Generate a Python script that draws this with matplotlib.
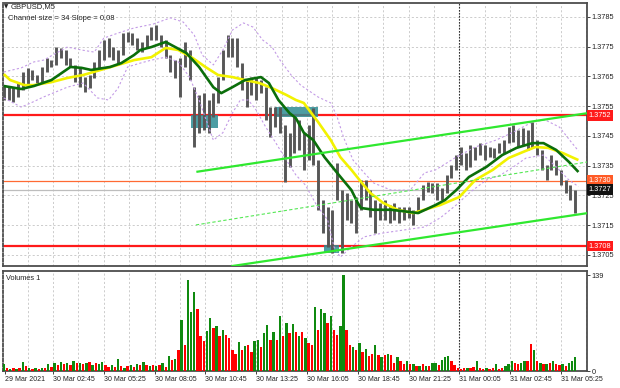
import matplotlib
matplotlib.use('Agg')
import matplotlib.pyplot as plt
from matplotlib.patches import Rectangle
from matplotlib.transforms import blended_transform_factory

# ---------------- data ----------------
# GBPUSD M5, one reading every 3 bars (bar 0 = first visible bar)
price_high = [1.37621, 1.37618, 1.37614, 1.37628, 1.37665, 1.37679, 1.37672, 1.37655, 1.37682, 1.37712,
              1.37705, 1.37749, 1.37746, 1.37739, 1.37712, 1.37689, 1.37682, 1.37648, 1.37655, 1.37699,
              1.37739, 1.37773, 1.37779, 1.37749, 1.37739, 1.37796, 1.37799, 1.37796, 1.37779, 1.37766,
              1.37789, 1.37816, 1.37823, 1.37789, 1.37773, 1.37722, 1.37705, 1.37712, 1.37766, 1.37739,
              1.37614, 1.37588, 1.37594, 1.37571, 1.37594, 1.37648, 1.37739, 1.37789, 1.37779, 1.37779,
              1.37695, 1.37638, 1.37648, 1.37648, 1.37638, 1.37614, 1.37547, 1.37547, 1.37547, 1.37487,
              1.37461, 1.37514, 1.37504, 1.37461, 1.37487, 1.37544, 1.37369, 1.37235, 1.37211, 1.37202,
              1.37359, 1.37268, 1.37258, 1.37235, 1.37245, 1.37302, 1.37302, 1.37268, 1.37235, 1.37225,
              1.37235, 1.37218, 1.37225, 1.37211, 1.37211, 1.37211, 1.37202, 1.37245, 1.37285, 1.37296,
              1.37292, 1.37292, 1.37275, 1.37319, 1.37353, 1.37386, 1.37413, 1.37393, 1.37419, 1.37413,
              1.37426, 1.37419, 1.37413, 1.37410, 1.37426, 1.37436, 1.37480, 1.37487, 1.37470, 1.37477,
              1.37470, 1.37497, 1.37436, 1.37403, 1.37353, 1.37386, 1.37369, 1.37336, 1.37302, 1.37285,
              1.37268]
price_low = [1.37571, 1.37571, 1.37564, 1.37581, 1.37604, 1.37621, 1.37638, 1.37628, 1.37631, 1.37665,
             1.37682, 1.37689, 1.37712, 1.37689, 1.37682, 1.37631, 1.37614, 1.37598, 1.37611, 1.37645,
             1.37679, 1.37705, 1.37715, 1.37705, 1.37689, 1.37722, 1.37766, 1.37756, 1.37739, 1.37732,
             1.37746, 1.37773, 1.37773, 1.37749, 1.37712, 1.37665, 1.37645, 1.37581, 1.37682, 1.37638,
             1.37413, 1.37461, 1.37470, 1.37461, 1.37514, 1.37561, 1.37638, 1.37715, 1.37715, 1.37682,
             1.37604, 1.37547, 1.37588, 1.37571, 1.37594, 1.37504, 1.37446, 1.37480, 1.37461, 1.37296,
             1.37346, 1.37393, 1.37403, 1.37336, 1.37369, 1.37353, 1.37202, 1.37124, 1.37077, 1.37057,
             1.37235, 1.37057, 1.37168, 1.37158, 1.37124, 1.37202, 1.37235, 1.37178, 1.37124, 1.37168,
             1.37168, 1.37158, 1.37168, 1.37158, 1.37168, 1.37175, 1.37151, 1.37191, 1.37235, 1.37262,
             1.37258, 1.37235, 1.37235, 1.37258, 1.37309, 1.37336, 1.37353, 1.37336, 1.37346, 1.37369,
             1.37386, 1.37369, 1.37379, 1.37376, 1.37393, 1.37393, 1.37426, 1.37430, 1.37413, 1.37419,
             1.37403, 1.37410, 1.37386, 1.37336, 1.37302, 1.37336, 1.37319, 1.37285, 1.37258, 1.37235,
             1.37191]
price_bar = list(range(0, 3 * len(price_high), 3))

green_bar = [0, 11, 19, 30, 42, 49, 55, 67, 74, 82, 86, 93, 102, 115, 123, 132, 137, 144, 152, 162,
             167, 173, 180, 184, 189, 195, 202, 210, 219, 223, 225, 233, 244, 255, 261, 272, 278, 285,
             293, 304, 314, 323, 333, 340, 348, 356, 362]
green_ma = [1.37618, 1.37608, 1.37618, 1.37638, 1.37682, 1.37679, 1.37672, 1.37682, 1.37695, 1.37722,
            1.37739, 1.37749, 1.37766, 1.37729, 1.37682, 1.37614, 1.37594, 1.37614, 1.37638, 1.37648,
            1.37628, 1.37571, 1.37527, 1.37510, 1.37461, 1.37436, 1.37379, 1.37326, 1.37268, 1.37225,
            1.37208, 1.37202, 1.37202, 1.37195, 1.37191, 1.37218, 1.37235, 1.37268, 1.37312, 1.37346,
            1.37386, 1.37410, 1.37426, 1.37426, 1.37403, 1.37363, 1.37329]

yellow_bar = [0, 4, 13, 19, 30, 40, 50, 61, 72, 82, 93, 102, 110, 119, 127, 135, 144, 152, 161, 169,
              178, 184, 189, 198, 206, 212, 219, 225, 231, 239, 248, 258, 265, 275, 287, 297, 308, 318,
              327, 335, 343, 352, 362]
yellow_ma = [1.37658, 1.37638, 1.37621, 1.37621, 1.37631, 1.37645, 1.37655, 1.37672, 1.37689, 1.37705,
             1.37715, 1.37746, 1.37739, 1.37712, 1.37682, 1.37655, 1.37648, 1.37638, 1.37628, 1.37611,
             1.37588, 1.37571, 1.37561, 1.37497, 1.37436, 1.37379, 1.37336, 1.37296, 1.37258, 1.37225,
             1.37202, 1.37191, 1.37202, 1.37218, 1.37245, 1.37302, 1.37336, 1.37376, 1.37396, 1.37413,
             1.37410, 1.37393, 1.37369]

upper_bar = [0, 11, 19, 25, 40, 49, 57, 63, 72, 82, 94, 105, 113, 120, 125, 132, 138, 144, 151, 157,
             163, 169, 174, 181, 187, 198, 206, 210, 214, 220, 227, 233, 244, 256, 265, 272, 285, 297,
             310, 321, 333, 341, 350, 358, 362]
upper_band = [1.37665, 1.37679, 1.37699, 1.37705, 1.37749, 1.37739, 1.37732, 1.37779, 1.37796, 1.37813,
              1.37826, 1.37847, 1.37833, 1.37789, 1.37722, 1.37689, 1.37739, 1.37806, 1.37830, 1.37816,
              1.37773, 1.37749, 1.37705, 1.37655, 1.37621, 1.37581, 1.37561, 1.37514, 1.37446, 1.37369,
              1.37326, 1.37292, 1.37268, 1.37268, 1.37326, 1.37336, 1.37379, 1.37413, 1.37436, 1.37463,
              1.37497, 1.37504, 1.37480, 1.37426, 1.37400]

lower_bar = [0, 11, 17, 25, 40, 50, 59, 66, 72, 78, 86, 93, 102, 110, 117, 123, 132, 138, 144, 149,
             154, 159, 165, 171, 178, 184, 190, 197, 204, 208, 212, 219, 227, 239, 252, 265, 275, 285,
             294, 304, 313, 321, 329, 340, 348, 356, 362]
lower_band = [1.37578, 1.37547, 1.37561, 1.37581, 1.37614, 1.37628, 1.37578, 1.37571, 1.37611, 1.37682,
              1.37695, 1.37705, 1.37715, 1.37699, 1.37648, 1.37571, 1.37436, 1.37461, 1.37527, 1.37571,
              1.37571, 1.37537, 1.37480, 1.37430, 1.37369, 1.37319, 1.37285, 1.37218, 1.37168, 1.37077,
              1.37043, 1.37077, 1.37111, 1.37124, 1.37134, 1.37144, 1.37175, 1.37218, 1.37262, 1.37302,
              1.37319, 1.37346, 1.37376, 1.37386, 1.37346, 1.37302, 1.37280]

# trend channel (start / end)
chan_upper_bar, chan_upper = [122, 368], [1.37330, 1.37527]
chan_lower_bar, chan_lower = [144, 368], [1.37013, 1.37191]
chan_mid_bar, chan_mid = [121, 368], [1.37151, 1.37363]

# horizontal levels
levels = [1.3752, 1.3708, 1.3730, 1.3727]
level_kind = ['red', 'red', 'orange', 'gray']

# shaded zones
zone_start = [118, 171, 202]
zone_end = [135, 198, 211]
zone_low = [1.37477, 1.37514, 1.37057]
zone_high = [1.37520, 1.37547, 1.37084]

# volumes, one reading every 2 bars, 'g' = up bar, 'r' = down bar
vol = [10, 4, 3, 4, 3, 5, 13, 7, 4, 3, 5, 3, 4, 5, 10, 6, 12, 9, 13, 10, 12, 9, 14, 11, 12,
       10, 12, 13, 9, 12, 10, 13, 8, 6, 9, 6, 17, 7, 5, 7, 8, 6, 10, 9, 13, 8, 7, 9, 7, 8, 12, 6, 22, 16, 18,
       30, 74, 38, 132, 85, 114, 90,
       50, 44, 58, 77, 62, 65, 50, 60, 52, 48, 30, 24, 42, 30, 36, 37, 28, 43, 45, 35,
       55, 67, 45, 57, 45, 80, 50, 70, 55, 68, 57, 50, 57, 48, 40, 38, 92, 60, 90, 84,
       70, 80, 60, 52, 65, 139, 60, 38, 35, 30, 40, 28, 32, 21, 24, 38, 23, 20, 23, 25,
       23, 12, 20, 14,
       10, 15, 10, 10, 7, 7, 10, 7, 7, 12, 12, 8, 16, 20, 22, 15, 8, 4, 3, 5,
       4, 5, 6, 15, 4, 3, 5, 3, 4, 10, 3, 4, 7, 10, 15, 12, 10, 12, 15, 15,
       39, 30, 15, 12, 10, 10, 12, 15, 10, 8, 10, 7, 12, 15, 20]
vol_dir = ("grgrgrgrgrgrgrgrgrgrgrgrg"
           "rgrgrggrrgrgrgrgrgrgrgrgrgrgrgrgrgggr"
           "rrggrgrgrr" "rrgrgrrggr" "ggrgrgrgrg" "rgrgrrgrgg" "rgrrggrrgr" "grgrrgrgrg" "rrgr"
           "rgrgrgrgrg" "grgggrrrrr" "grrgrrgrrg" "rrgggrrggr" "rgrgrgrgrr" "grggg")
vol_bar = list(range(0, 2 * len(vol), 2))

# axis labels
price_ticks = [1.3705, 1.3715, 1.3725, 1.3735, 1.3745, 1.3755, 1.3765, 1.3775, 1.3785]
time_tick_bar = [1, 31, 63, 95, 127, 159, 191, 223, 255, 287, 319, 351]
time_tick_lbl = ['29 Mar 2021', '30 Mar 02:45', '30 Mar 05:25', '30 Mar 08:05', '30 Mar 10:45',
                 '30 Mar 13:25', '30 Mar 16:05', '30 Mar 18:45', '30 Mar 21:25', '31 Mar 00:05',
                 '31 Mar 02:45', '31 Mar 05:25']
grid_bar = list(range(15, 368, 16))
day_sep_bar = 286.5
vol_ticks = [0, 139]

# ---------------- drawing ----------------
FONT = ['Liberation Sans', 'DejaVu Sans']
plt.rcParams['font.family'] = FONT
W, H = 620, 388
fig = plt.figure(figsize=(W / 100, H / 100), dpi=100)
fig.patch.set_facecolor('white')


def px_axes(l, t, r, b):
    return fig.add_axes([l / W, 1 - b / H, (r - l) / W, (b - t) / H])


ax = px_axes(3, 3, 587, 266)
axv = px_axes(3, 271, 587, 371)
XL = (-0.5, 367.4)
grid_kw = dict(color='#c4c4c4', lw=0.6, ls=(0, (2.5, 2.5)), zorder=0)

for a in (ax, axv):
    a.set_xlim(*XL)
    a.set_facecolor('white')
    for s in a.spines.values():
        s.set_color('#4d4d4d')
        s.set_linewidth(1.3)
    a.spines['left'].set_linestyle((0, (1.5, 1.2)))
    for b in grid_bar:
        a.axvline(b, **grid_kw)
    a.axvline(day_sep_bar, color='#111111', lw=0.8, ls=(0, (1.2, 1.5)), zorder=1)

ax.set_ylim(1.37013, 1.37897)
for p in price_ticks:
    ax.axhline(p, **grid_kw)

# levels
lev_style = {'red': dict(color='#ff1a1a', lw=1.6), 'orange': dict(color='#ff6a33', lw=0.9),
             'gray': dict(color='#bdbdbd', lw=0.9)}
for lv, k in zip(levels, level_kind):
    ax.axhline(lv, zorder=2, **lev_style[k])

# zones
for s, e, lo, hi in zip(zone_start, zone_end, zone_low, zone_high):
    ax.add_patch(Rectangle((s, lo), e - s, hi - lo, facecolor='#2e8c93', alpha=0.85,
                           edgecolor='none', zorder=3))

# price bars
ax.vlines(price_bar, price_low, price_high, colors='#575757', lw=2.1, zorder=4)

# bands and MAs
band_kw = dict(color='#c39be6', lw=0.8, ls=(0, (2, 2)), zorder=5)
ax.plot(upper_bar, upper_band, **band_kw)
ax.plot(lower_bar, lower_band, **band_kw)
ax.plot(yellow_bar, yellow_ma, color='#f2f200', lw=1.9, zorder=6, solid_capstyle='butt')
ax.plot(green_bar, green_ma, color='#0b6e0b', lw=1.9, zorder=7, solid_capstyle='butt')

# channel
ax.plot(chan_upper_bar, chan_upper, color='#2fe82f', lw=1.6, zorder=8)
ax.plot(chan_lower_bar, chan_lower, color='#2fe82f', lw=1.6, zorder=8)
ax.plot(chan_mid_bar, chan_mid, color='#55e855', lw=0.8, ls=(0, (3, 2)), zorder=8)

ax.set_xticks([])
ax.yaxis.tick_right()
ax.set_yticks(price_ticks)
ax.set_yticklabels([f'{p:.4f}' for p in price_ticks])
ax.tick_params(axis='y', length=2, width=0.6, pad=1.5, labelsize=5.3, colors='#222222')

# coloured price boxes
tr = blended_transform_factory(ax.transAxes, ax.transData)
box_col = {'red': '#ff1a1a', 'orange': '#ff5a26', 'gray': '#111111'}
for lv, k in zip(levels, level_kind):
    ax.text(1.003, lv, f'{lv:.4f}', transform=tr, ha='left', va='center', fontsize=5.3,
            color='white', clip_on=False, zorder=20,
            bbox=dict(boxstyle='square,pad=0.25', facecolor=box_col[k], edgecolor='none'))

# volumes
vcol = ['#0f8a0f' if d == 'g' else '#ff0000' for d in vol_dir]
axv.bar(vol_bar, vol, width=1.5, color=vcol, linewidth=0, zorder=3)
axv.set_ylim(0, 144.8)
axv.yaxis.tick_right()
axv.set_yticks(vol_ticks)
axv.set_yticklabels([str(v) for v in vol_ticks])
axv.tick_params(axis='y', length=2, width=0.6, pad=1.5, labelsize=5.3, colors='#222222')
axv.set_xticks(time_tick_bar)
axv.set_xticklabels(time_tick_lbl, ha='left')
axv.tick_params(axis='x', length=2, width=0.6, pad=1.5, labelsize=5.0, colors='#222222')

# texts
fig.text(4 / W, 1 - 7 / H, '\u25BC', fontsize=4, va='center', ha='left', color='#222222',
         family=['DejaVu Sans'])
fig.text(11 / W, 1 - 7 / H, 'GBPUSD,M5', fontsize=5.5, va='center', ha='left', color='#222222')
fig.text(8 / W, 1 - 18.5 / H, 'Channel size = 34 Slope = 0,08', fontsize=5.5, va='center',
         ha='left', color='#222222')
fig.text(6 / W, 1 - 278 / H, 'Volumes 1', fontsize=5.3, va='center', ha='left', color='#222222')

fig.savefig('out.png', dpi=100, facecolor='white')
